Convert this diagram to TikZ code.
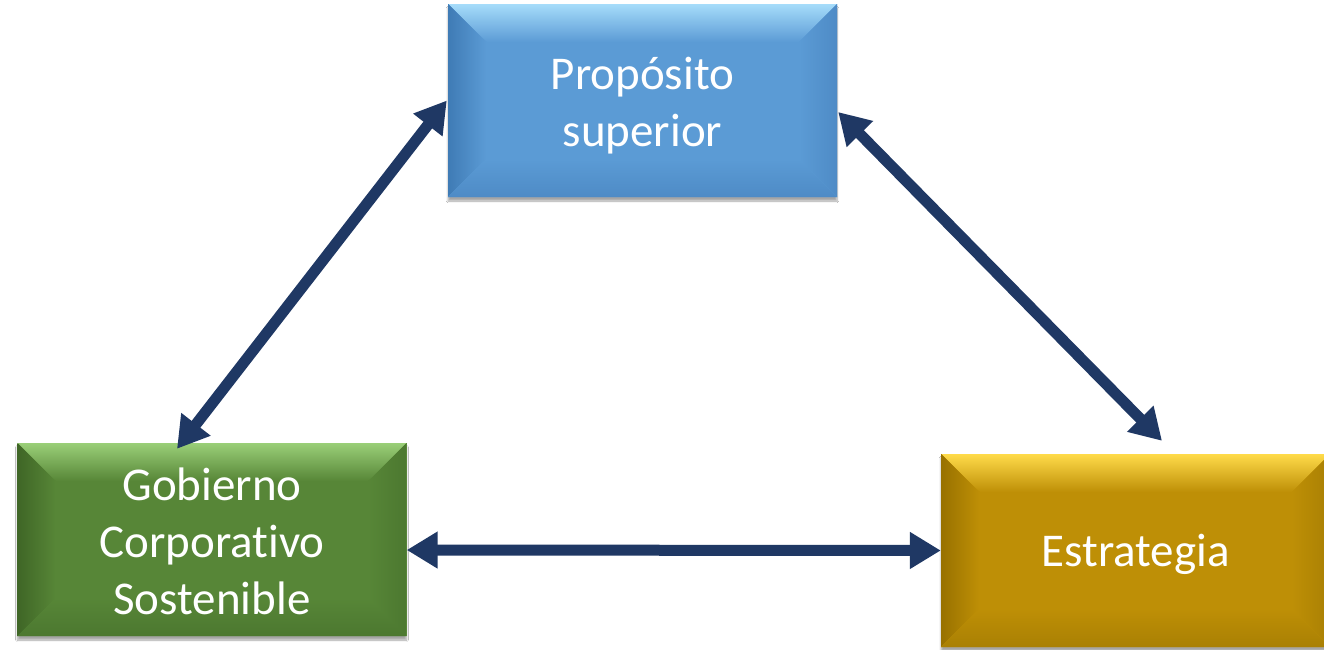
\documentclass[tikz,border=0pt]{standalone}
\usepackage{fontspec}
\setmainfont{Carlito}[Ligatures=CommonOff]
\usetikzlibrary{arrows.meta,shadows.blur}
\definecolor{bluebase}{HTML}{5B9BD5}
\definecolor{bluelight}{HTML}{A6DCFA}
\definecolor{bluedark}{HTML}{3F7BB5}
\definecolor{blueside}{HTML}{4E8BC6}
\definecolor{greenbase}{HTML}{578637}
\definecolor{greenlight}{HTML}{9ACF78}
\definecolor{greendark}{HTML}{3F6626}
\definecolor{greenside}{HTML}{4C7830}
\definecolor{goldbase}{HTML}{BE8F06}
\definecolor{goldlight}{HTML}{FFDB4A}
\definecolor{golddark}{HTML}{987100}
\definecolor{goldside}{HTML}{A98004}
\definecolor{arrowblue}{HTML}{1F3864}
\tikzset{
  bevelbox/.style n args={4}{draw=none, fill=#1, minimum width=389pt, minimum height=193pt,
    inner sep=0pt,
    blur shadow={shadow xshift=0pt, shadow yshift=-4pt, shadow blur steps=6, shadow opacity=35},
    path picture={
      \coordinate (ppnw) at (path picture bounding box.north west);
      \coordinate (ppne) at (path picture bounding box.north east);
      \coordinate (ppsw) at (path picture bounding box.south west);
      \coordinate (ppse) at (path picture bounding box.south east);
      \fill[top color=#2, bottom color=#1] (ppnw) -- (ppne) -- ([shift={(-38pt,-38pt)}]ppne) -- ([shift={(38pt,-38pt)}]ppnw) -- cycle;
      \fill[left color=#3, right color=#1] (ppnw) -- ([shift={(38pt,-38pt)}]ppnw) -- ([shift={(38pt,38pt)}]ppsw) -- (ppsw) -- cycle;
      \fill[right color=#4, left color=#1] (ppne) -- ([shift={(-38pt,-38pt)}]ppne) -- ([shift={(-38pt,38pt)}]ppse) -- (ppse) -- cycle;
      \fill[bottom color=#4, top color=#1] (ppsw) -- ([shift={(38pt,38pt)}]ppsw) -- ([shift={(-38pt,38pt)}]ppse) -- (ppse) -- cycle;
    }},
  boxtext/.style={text=white, font=\fontsize{47}{57}\selectfont, align=center, inner sep=0pt},
  conn/.style={draw=arrowblue, line width=11pt,
    {Triangle[length=31pt,width=35pt]}-{Triangle[length=31pt,width=35pt]}}
}
\begin{document}
\begin{tikzpicture}[x=1pt,y=-1pt]
\useasboundingbox (0,0) rectangle (1324,649);
\fill[white] (0,0) rectangle (1324,649);
\node[bevelbox={bluebase}{bluelight}{bluedark}{blueside}] (prop) at (642.5,100.5) {};
\node[bevelbox={greenbase}{greenlight}{greendark}{greenside}] (gob) at (212,539.5) {};
\node[bevelbox={goldbase}{goldlight}{golddark}{goldside}] (estr) at (1135.5,550.5) {};
\node[boxtext] (proptxt) at ([yshift=-5pt]prop.center) {Propósito\\superior};
\node[boxtext] (gobtxt) at ([yshift=-2pt]gob.center) {Gobierno\\Corporativo\\Sostenible};
\node[boxtext] (estrtxt) at ([yshift=-4pt]estr.center) {Estrategia};
\draw[conn] ([yshift=-10.5pt]gob.east) -- (estr.west);
\draw[conn] ([xshift=-35pt,yshift=-6pt]gob.north) -- ([xshift=-1pt]prop.west);
\draw[conn] ([xshift=1pt,yshift=-11.5pt]prop.east) -- ([xshift=26.5pt,yshift=13pt]estr.north);
\end{tikzpicture}
\end{document}
